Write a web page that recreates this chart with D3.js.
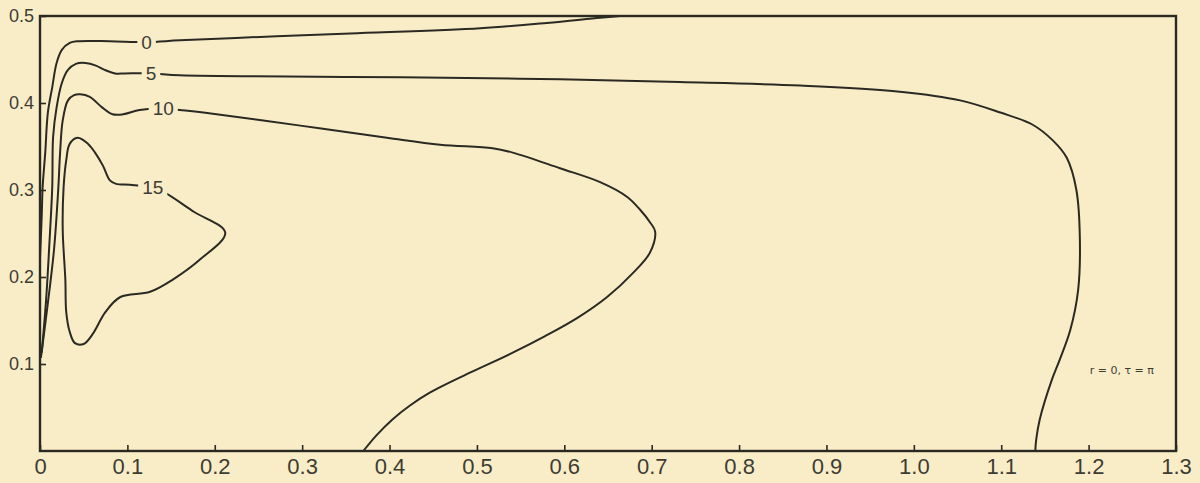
<!DOCTYPE html>
<html>
<head>
<meta charset="utf-8">
<script src="https://cdn.jsdelivr.net/npm/d3@7"></script>
<style>
  body { margin: 0; background: #f9edc8; }
  svg { display: block; }
</style>
</head>
<body>
<div id="chart"></div>
<script>
// axis ticks
const xTicks = [0, 0.1, 0.2, 0.3, 0.4, 0.5, 0.6, 0.7, 0.8, 0.9, 1.0, 1.1, 1.2, 1.3];
const yTicks = [0.1, 0.2, 0.3, 0.4, 0.5];

// contour levels and where their numbers sit (data units)
const levels = ["0", "5", "10", "15"];
const labelAt = [[0.122, 0.470], [0.127, 0.434], [0.141, 0.394], [0.129, 0.303]];

// contour 0 : open line, wall -> top edge
const contour0 = [
    [0.000, 0.222], [0.002, 0.271], [0.003, 0.303], [0.006, 0.343], [0.009, 0.389],
    [0.014, 0.418], [0.019, 0.446], [0.025, 0.461], [0.034, 0.469], [0.043, 0.471],
    [0.080, 0.471], [0.122, 0.470], [0.160, 0.472], [0.252, 0.476], [0.355, 0.480],
    [0.504, 0.486], [0.580, 0.492], [0.641, 0.498], [0.664, 0.500]
];

// contour 5 : wall -> bottom edge on the right
const contour5 = [
    [0.002, 0.113], [0.007, 0.174], [0.011, 0.243], [0.014, 0.303], [0.015, 0.361],
    [0.019, 0.395], [0.025, 0.423], [0.032, 0.438], [0.041, 0.445], [0.052, 0.446],
    [0.064, 0.443], [0.074, 0.438], [0.086, 0.434], [0.097, 0.434], [0.127, 0.434],
    [0.160, 0.432], [0.355, 0.430], [0.549, 0.428], [0.732, 0.424], [0.870, 0.420],
    [0.984, 0.413], [1.053, 0.403], [1.099, 0.389], [1.136, 0.375], [1.159, 0.357],
    [1.175, 0.337], [1.186, 0.300], [1.190, 0.243], [1.188, 0.185], [1.179, 0.139],
    [1.167, 0.105], [1.158, 0.082], [1.144, 0.036], [1.140, 0.013], [1.139, 0.000]
];

// contour 10 : wall -> bottom edge near 0.37
const contour10 = [
    [0.001, 0.107], [0.008, 0.162], [0.016, 0.231], [0.021, 0.303], [0.023, 0.343],
    [0.026, 0.380], [0.032, 0.403], [0.039, 0.409], [0.046, 0.410], [0.057, 0.407],
    [0.071, 0.395], [0.083, 0.387], [0.095, 0.387], [0.114, 0.392], [0.141, 0.394],
    [0.160, 0.392], [0.187, 0.389], [0.298, 0.374], [0.397, 0.360], [0.458, 0.352],
    [0.518, 0.348], [0.541, 0.343], [0.595, 0.325], [0.641, 0.309], [0.672, 0.292],
    [0.687, 0.277], [0.698, 0.263], [0.704, 0.252], [0.698, 0.228], [0.679, 0.205],
    [0.649, 0.177], [0.615, 0.153], [0.578, 0.132], [0.541, 0.113], [0.492, 0.090],
    [0.446, 0.067], [0.423, 0.052], [0.403, 0.036], [0.385, 0.018], [0.370, 0.000]
];

// contour 15 : closed loop
const contour15 = [
    [0.043, 0.360], [0.055, 0.353], [0.063, 0.343], [0.072, 0.328], [0.080, 0.311],
    [0.087, 0.307], [0.103, 0.306], [0.129, 0.303], [0.141, 0.298], [0.176, 0.275],
    [0.212, 0.251], [0.183, 0.220], [0.152, 0.197], [0.126, 0.183], [0.092, 0.177],
    [0.075, 0.160], [0.060, 0.134], [0.050, 0.123], [0.040, 0.124], [0.034, 0.137],
    [0.030, 0.160], [0.029, 0.197], [0.026, 0.254], [0.027, 0.303], [0.030, 0.334],
    [0.034, 0.353]
];

const note = "r = 0, τ = π";
const noteAt = [1.238, 0.093];

const width = 1200, height = 483;
const bg = "#f9edc8", ink = "#2b2a22", textInk = "#3d3c33";

const x = d3.scaleLinear().domain([0, 1.3]).range([40, 1176]);
const y = d3.scaleLinear().domain([0, 0.5]).range([451, 16]);

const svg = d3.select("#chart").append("svg")
    .attr("width", width)
    .attr("height", height)
    .attr("viewBox", [0, 0, width, height]);

svg.append("rect").attr("width", width).attr("height", height).attr("fill", bg);

const line = d3.line()
    .x(d => x(d[0]))
    .y(d => y(d[1]))
    .curve(d3.curveCatmullRom.alpha(0.5));

const loop = d3.line()
    .x(d => x(d[0]))
    .y(d => y(d[1]))
    .curve(d3.curveCatmullRomClosed.alpha(0.5));

const lines = svg.append("g")
    .attr("fill", "none")
    .attr("stroke", ink)
    .attr("stroke-width", 2)
    .attr("stroke-linejoin", "round");

[contour0, contour5, contour10].forEach(c => {
    lines.append("path").attr("d", line(c));
});
lines.append("path").attr("d", loop(contour15));

// level numbers, cut into the lines
const labels = svg.append("g")
    .attr("font-family", "Liberation Sans, Arial, sans-serif")
    .attr("font-size", 19)
    .attr("fill", textInk);

levels.forEach((t, i) => {
    const g = labels.append("g")
        .attr("transform", `translate(${x(labelAt[i][0])},${y(labelAt[i][1])})`);
    const r = g.append("rect").attr("fill", bg);
    const txt = g.append("text")
        .attr("text-anchor", "middle")
        .attr("dy", "0.35em")
        .text(t);
    const b = txt.node().getBBox();
    r.attr("x", b.x - 4).attr("y", b.y + 2).attr("width", b.width + 8).attr("height", b.height - 4);
});

// frame
svg.append("rect")
    .attr("x", x(0))
    .attr("y", y(0.5))
    .attr("width", x(1.3) - x(0))
    .attr("height", y(0) - y(0.5))
    .attr("fill", "none")
    .attr("stroke", ink)
    .attr("stroke-width", 2.4);

const fmt = d => d === 0 ? "0" : d3.format(".1f")(d);

svg.append("g")
    .attr("transform", `translate(0,${y(0)})`)
    .call(d3.axisBottom(x).tickValues(xTicks).tickFormat(fmt).tickSizeInner(-6).tickSizeOuter(0).tickPadding(7))
    .call(g => g.select(".domain").remove())
    .call(g => g.selectAll(".tick line").attr("stroke", ink).attr("stroke-width", 1.6))
    .attr("font-family", "Liberation Sans, Arial, sans-serif")
    .attr("font-size", 22)
    .call(g => g.selectAll(".tick text").attr("fill", textInk));

svg.append("g")
    .attr("transform", `translate(${x(0)},0)`)
    .call(d3.axisLeft(y).tickValues(yTicks).tickFormat(d3.format(".1f")).tickSizeInner(-6).tickSizeOuter(0).tickPadding(6))
    .call(g => g.select(".domain").remove())
    .call(g => g.selectAll(".tick line").attr("stroke", ink).attr("stroke-width", 1.6))
    .attr("font-family", "Liberation Sans, Arial, sans-serif")
    .attr("font-size", 18)
    .call(g => g.selectAll(".tick text").attr("fill", textInk));

svg.append("text")
    .attr("x", x(noteAt[0]))
    .attr("y", y(noteAt[1]))
    .attr("text-anchor", "middle")
    .attr("dy", "0.35em")
    .attr("font-family", "DejaVu Sans, sans-serif")
    .attr("font-size", 11)
    .attr("fill", textInk)
    .text(note);
</script>
</body>
</html>
